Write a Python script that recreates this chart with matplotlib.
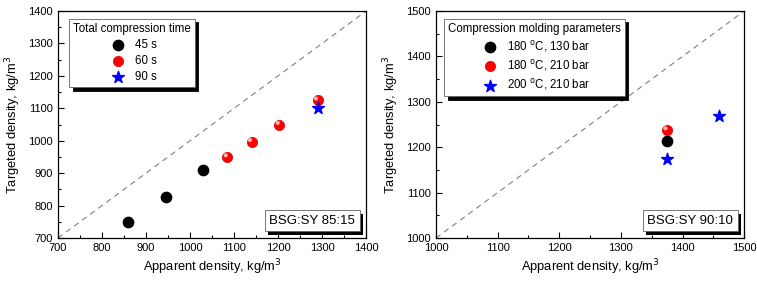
import matplotlib.pyplot as plt
import matplotlib.patheffects as pe
from matplotlib.ticker import MultipleLocator
from matplotlib.transforms import offset_copy

plt.rcParams['font.family'] = ['Liberation Sans', 'DejaVu Sans']

# left panel: BSG:SY 85:15
app_45 = [860, 945, 1030]
tgt_45 = [750, 825, 910]
app_60 = [1085, 1140, 1203, 1290]
tgt_60 = [950, 997, 1050, 1125]
app_90 = [1290]
tgt_90 = [1100]

# right panel: BSG:SY 90:10
app_180_130 = [1375]
tgt_180_130 = [1213]
app_180_210 = [1375]
tgt_180_210 = [1238]
app_200_210 = [1375, 1460]
tgt_200_210 = [1175, 1268]

fig = plt.figure(figsize=(7.57, 2.84), dpi=100)
ax1 = fig.add_axes([0.0766, 0.162, 0.407, 0.799])
ax2 = fig.add_axes([0.576, 0.162, 0.407, 0.799])


def red_sphere(ax, x, y, label):
    h = ax.scatter(x, y, s=55, c='#ff0000', edgecolors='#e00000', linewidths=0.5,
                   label=label, zorder=3)
    tr = offset_copy(ax.transData, fig=fig, x=-1.2, y=1.2, units='points')
    ax.scatter(x, y, s=9, c='#ffb0b0', edgecolors='none', transform=tr, zorder=4)
    return h


def style(ax, lo, hi, step, label_box):
    ax.plot([lo, hi], [lo, hi], ls=(0, (5, 4)), color='#808080', lw=0.8, zorder=1)
    ax.set_xlim(lo, hi)
    ax.set_ylim(lo, hi)
    ax.xaxis.set_major_locator(MultipleLocator(step))
    ax.yaxis.set_major_locator(MultipleLocator(step))
    ax.xaxis.set_minor_locator(MultipleLocator(step / 2))
    ax.yaxis.set_minor_locator(MultipleLocator(step / 2))
    ax.tick_params(which='both', direction='in', top=False, right=False, labelsize=8)
    ax.tick_params(which='major', length=4, width=0.8)
    ax.tick_params(which='minor', length=2.5, width=0.8)
    for s in ax.spines.values():
        s.set_linewidth(0.9)
    ax.set_xlabel('Apparent density, kg/m$^3$', fontsize=9.3, labelpad=3)
    ax.set_ylabel('Targeted density, kg/m$^3$', fontsize=9.3, labelpad=4)
    t = ax.text(0.965, 0.05, label_box, transform=ax.transAxes, ha='right', va='bottom',
                fontsize=9.5, zorder=5,
                bbox=dict(boxstyle='square,pad=0.35', fc='white', ec='#606060', lw=0.6))
    t.get_bbox_patch().set_path_effects([
        pe.SimplePatchShadow(offset=(2.5, -2.5), shadow_rgbFace='black', alpha=1),
        pe.Normal()])


def add_legend(ax, title, x0):
    leg = ax.legend(title=title, loc='upper left', bbox_to_anchor=(x0, 0.965),
                    borderaxespad=0, fontsize=8.3, title_fontsize=8.3, fancybox=False,
                    edgecolor='#606060', framealpha=1, handletextpad=0.5,
                    labelspacing=0.35, borderpad=0.35, markerfirst=True,
                    shadow={'color': 'black', 'alpha': 1, 'ox': 2.5, 'oy': -2.5})
    leg.get_frame().set_linewidth(0.6)
    leg._legend_box.align = 'center'
    return leg


# left
ax1.scatter(app_45, tgt_45, s=55, c='black', label='45 s', zorder=3)
red_sphere(ax1, app_60, tgt_60, '60 s')
ax1.scatter(app_90, tgt_90, s=80, c='#0000ff', marker='*', label='90 s', zorder=4)
style(ax1, 700, 1400, 100, 'BSG:SY 85:15')
add_legend(ax1, 'Total compression time', 0.036)

# right
ax2.scatter(app_180_130, tgt_180_130, s=55, c='black',
            label='180 $^{\\rm o}$C, 130 bar', zorder=3)
red_sphere(ax2, app_180_210, tgt_180_210, '180 $^{\\rm o}$C, 210 bar')
ax2.scatter(app_200_210, tgt_200_210, s=80, c='#0000ff', marker='*',
            label='200 $^{\\rm o}$C, 210 bar', zorder=4)
style(ax2, 1000, 1500, 100, 'BSG:SY 90:10')
add_legend(ax2, 'Compression molding parameters', 0.026)

fig.savefig('out.png', dpi=100)
